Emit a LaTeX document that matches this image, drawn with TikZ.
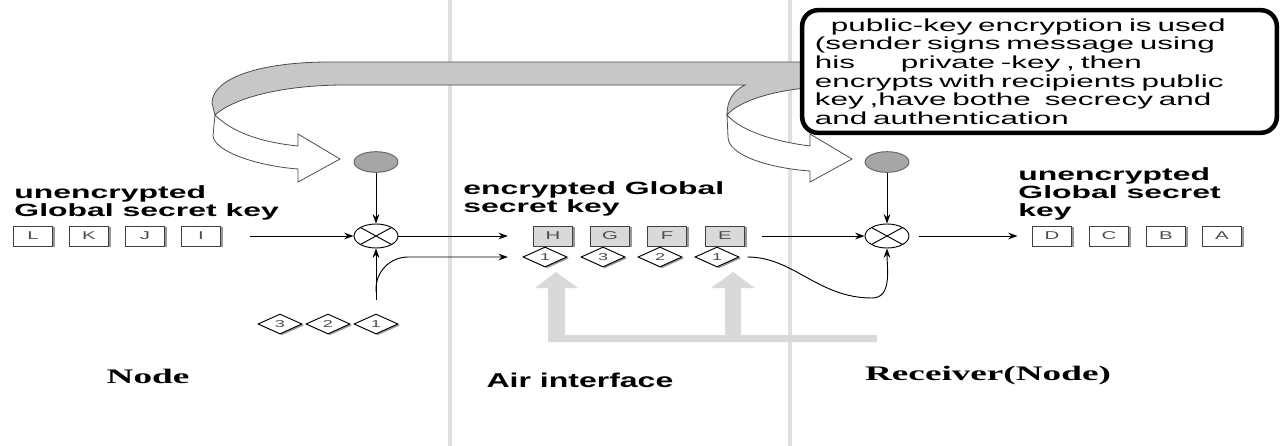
\documentclass[tikz,border=0pt]{standalone}
\usepackage{fontspec}
\usetikzlibrary{shapes.geometric,shadows,arrows.meta}
\setmainfont{Liberation Sans}
\newfontfamily\widesans[FakeStretch=1.8]{Liberation Sans}
\newfontfamily\wideserif[FakeStretch=1.8]{Liberation Serif}
\newfontfamily\midsans[FakeStretch=1.6]{Liberation Sans}

\tikzset{
  keybox/.style={draw=black!75, fill=white, minimum width=29pt, minimum height=15pt, inner sep=0pt,
    font=\widesans\fontsize{8.5pt}{9pt}\selectfont, text=black!70,
    general shadow={fill=black!40, shadow xshift=2pt, shadow yshift=-1pt}},
  greybox/.style={keybox, fill=black!15},
  seqmark/.style={diamond, draw=black, fill=white, minimum width=33pt, minimum height=15pt, inner sep=0pt,
    font=\widesans\fontsize{7.5pt}{8pt}\selectfont, text=black!70,
    general shadow={fill=black!40, shadow xshift=1.5pt, shadow yshift=-1pt}},
  mixer/.style={ellipse, draw, fill=white, minimum width=33pt, minimum height=18pt, inner sep=0pt,
    path picture={\draw (path picture bounding box.north west) -- (path picture bounding box.south east)
      (path picture bounding box.south west) -- (path picture bounding box.north east);}},
  keydot/.style={ellipse, draw=black!60, fill=black!35, minimum width=33pt, minimum height=15.5pt, inner sep=0pt},
  heading/.style={anchor=south west, align=left, inner sep=0pt,
    font=\widesans\bfseries\fontsize{13.3pt}{13.5pt}\selectfont},
  notebox/.style={draw, line width=3.4pt, rounded corners=12pt, fill=white, minimum width=356pt,
    minimum height=92pt, text width=337pt, align=left, inner sep=0pt,
    font=\widesans\fontsize{13.1pt}{14pt}\selectfont},
  ribbon/.style={draw=black!70, line width=0.6pt},
  sepline/.style={black!12, line width=2.5pt},
}

\begin{document}
\begin{tikzpicture}[x=0.75pt, y=-0.75pt, >={Stealth[length=7pt,width=5pt]}, line width=0.7pt]
    \useasboundingbox (0,0) rectangle (1282,446);
    % zone separators
    \draw [sepline] (450,0) -- (450,446);
    \draw [sepline] (790,0) -- (790,446);
    % air interface arrows
    \fill [black!15] (548,342) -- (548,288) -- (535,288) -- (556,272) -- (578,288) -- (565,288)
      -- (565,335) -- (725,335) -- (725,288) -- (711,288) -- (733,272) -- (755,288) -- (741,288)
      -- (741,335) -- (877,335) -- (877,342) -- cycle;
    % key ribbon
    \draw [ribbon, fill=black!22] (212,103) .. controls (212,80) and (255,62) .. (330,62) -- (806,62)
      -- (806,88) .. controls (775,91) and (740,100) .. (727,115) .. controls (727,103) and (731,92) .. (745,85)
      -- (345,85) .. controls (285,85) and (235,97) .. (215,115) -- cycle;
    \draw [ribbon, fill=white] (215,115) .. controls (235,135) and (268,143) .. (298,146) -- (298,134)
      -- (340,159) -- (298,182) -- (298,169) .. controls (258,166) and (215,152) .. (213,136) -- cycle;
    \draw [ribbon, fill=white] (727,115) .. controls (742,132) and (778,142) .. (810,146) -- (810,134)
      -- (852,159) -- (810,182) -- (810,171) .. controls (768,168) and (728,155) .. (728,137) -- cycle;
    \node [notebox] (note) at (1039.5,71.5) {\hspace*{12pt}public-key encryption is used\\
      (sender signs message using\\his\hspace*{30pt} private -key , then\\
      encrypts with recipients public\\key ,have bothe\hspace*{6pt} secrecy and\\and authentication};
    % sender
    \node [heading] (plainA) at (14,221) {unencrypted\\Global secret key};
    \foreach \t/\x in {L/33,K/89,J/145,I/201}
      \node [keybox] (\t) at (\x,236) {\t};
    \node [keydot] (dotA) at (376,162) {};
    \node [mixer] (mixA) at (376,236) {};
    \node [seqmark] (sA3) at (280,324) {3};
    \node [seqmark] (sA2) at (328,324) {2};
    \node [seqmark] (sA1) at (376,324) {1};
    \coordinate (split) at (376,292);
    \draw [->, shorten <=22pt] (I.east) -- (mixA.west);
    \draw [->] (dotA) -- (mixA);
    \draw [->, shorten <=10pt] (sA1.north) -- (mixA.south);
    % air interface
    \node [heading] (cipher) at (463,217) {encrypted Global\\secret key};
    \foreach \t/\x in {H/553,G/610,F/667,E/725}
      \node [greybox] (\t) at (\x,236) {\t};
    \node [seqmark] (sB1) at (545,257) {1};
    \node [seqmark] (sB2) at (603,257) {3};
    \node [seqmark] (sB3) at (660,257) {2};
    \node [seqmark] (sB4) at (717,257) {1};
    \draw [->, shorten >=19pt] (mixA) -- (H.west);
    \draw [->, rounded corners=24pt, shorten >=11pt] (split) |- (sB1.west);
    % receiver
    \node [heading] (plainB) at (1018,221) {unencrypted\\Global secret\\key};
    \foreach \t/\x in {D/1052,C/1109,B/1166,A/1222}
      \node [keybox] (\t) at (\x,236) {\t};
    \node [keydot] (dotB) at (887,162) {};
    \node [mixer] (mixB) at (887,236) {};
    \coordinate (dip) at (872,298);
    \draw [->, shorten <=13pt] (E.east) -- (mixB.west);
    \draw [->] (dotB) -- (mixB);
    \draw [->, shorten <=7pt, shorten >=11pt] (mixB) -- (D.west);
    \draw [->, shorten <=6pt] (sB4.east) to[out=0, in=180] (dip) to[out=0, in=-90] (mixB.south);
    % zone names
    \node [font=\wideserif\bfseries\fontsize{15.5pt}{16pt}\selectfont] (sender) at (148,376) {Node};
    \node [font=\midsans\bfseries\fontsize{15pt}{16pt}\selectfont] (air) at (580,380) {Air interface};
    \node [font=\wideserif\bfseries\fontsize{15.5pt}{16pt}\selectfont] (receiver) at (988,376) {Receiver(Node)};
\end{tikzpicture}
\end{document}
